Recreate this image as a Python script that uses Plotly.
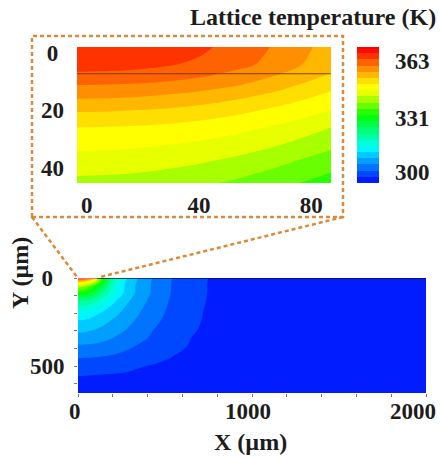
import plotly.graph_objects as go

W, H = 440, 458

# Inset: lattice temperature (K), estimated from the band edges in the picture
inset_x = [-3.5, 10, 25, 40, 55, 70, 87]
inset_y = [-2, 4, 8, 12, 16, 20, 26, 32, 38, 45.3]
inset_t = [
    [367.0, 367.0, 366.0, 364.8, 362.4, 359.6, 355.4],
    [365.3, 365.2, 364.6, 363.4, 361.5, 358.6, 354.6],
    [363.3, 363.1, 362.4, 361.0, 359.0, 356.5, 353.0],
    [359.8, 359.6, 359.0, 358.0, 356.5, 354.0, 350.6],
    [357.0, 356.8, 356.2, 355.2, 353.5, 351.3, 348.7],
    [353.9, 353.7, 353.2, 352.2, 350.8, 349.0, 346.5],
    [350.0, 349.8, 349.4, 348.6, 347.4, 345.7, 343.0],
    [347.4, 347.2, 346.7, 345.9, 344.6, 342.9, 340.4],
    [345.0, 344.8, 344.2, 343.3, 341.9, 340.0, 337.5],
    [342.0, 341.8, 341.2, 340.2, 338.7, 336.8, 334.5],
]

# Main plot: lattice temperature (K), estimated from the band edges in the picture
main_x = [0, 40, 87, 140, 200, 280, 350, 430, 550, 650, 750, 1000, 2000]
main_y = [0, 25, 47, 85, 130, 200, 250, 300, 340, 380, 420, 455, 500, 540, 653]
main_t = [
    [367.0, 365.0, 356.0, 335.0, 322.0, 312.0, 307.6, 304.3, 300.8, 299.1, 297.5, 295.5, 294.5],
    [351.0, 349.0, 343.5, 331.0, 318.8, 310.8, 307.2, 304.1, 300.6, 299.0, 297.4, 295.5, 294.5],
    [341.5, 340.0, 334.0, 327.0, 317.5, 310.3, 307.0, 304.0, 300.6, 298.9, 297.4, 295.5, 294.5],
    [332.0, 331.0, 328.0, 321.9, 316.1, 310.2, 306.9, 304.0, 300.5, 298.9, 297.4, 295.4, 294.5],
    [322.0, 321.5, 320.0, 316.5, 312.4, 308.6, 305.9, 303.4, 300.2, 298.7, 297.3, 295.4, 294.5],
    [314.0, 313.8, 312.5, 311.0, 309.2, 306.7, 304.6, 302.4, 299.9, 298.3, 297.1, 295.3, 294.5],
    [310.9, 310.7, 310.1, 308.9, 307.4, 305.5, 303.6, 301.7, 299.6, 298.1, 297.05, 295.4, 294.5],
    [308.5, 308.4, 307.8, 307.0, 306.0, 304.2, 302.8, 301.0, 299.3, 297.8, 296.9, 295.2, 294.5],
    [306.6, 306.5, 306.2, 305.5, 304.5, 303.2, 301.9, 300.5, 299.0, 297.5, 296.8, 295.3, 294.5],
    [304.5, 304.4, 304.2, 303.8, 303.1, 302.0, 300.8, 299.9, 298.4, 297.3, 296.6, 295.1, 294.5],
    [302.8, 302.8, 302.6, 302.2, 301.6, 300.7, 300.1, 299.3, 297.8, 297.0, 296.4, 295.2, 294.5],
    [301.0, 300.9, 300.8, 300.6, 300.3, 299.8, 299.2, 298.4, 297.3, 296.7, 296.0, 295.0, 294.5],
    [299.3, 299.3, 299.2, 299.1, 298.8, 298.3, 297.8, 297.3, 296.8, 296.2, 295.6, 295.0, 294.5],
    [297.9, 297.9, 297.8, 297.7, 297.6, 297.4, 296.8, 296.5, 296.0, 295.6, 295.3, 295.0, 294.5],
    [295.0, 295.0, 295.0, 295.0, 295.0, 295.0, 295.0, 294.9, 294.8, 294.7, 294.7, 294.6, 294.5],
]

T_MIN, T_MAX, T_STEP = 294, 371, 3.5
scale_t = [294, 296, 314, 332, 346, 349, 360, 368, 371]
scale_c = ["#0000ff", "#0020ff", "#00ffff", "#00ff00", "#ffff00", "#ffff00", "#ff8000", "#ff1500", "#ff0000"]
colorbar_ticks = [300, 331, 363]

inset_xticks = [0, 40, 80]
inset_yticks = [0, 20, 40]
inset_ylabels = ["0\u2005", "20", "40"]
main_xticks = [0, 200, 400, 600, 800, 1000, 1200, 1400, 1600, 1800, 2000]
main_xlabels = [0, 1000, 2000]
main_xlabel_shift = [-3, -4, -13]
main_yticks = [0, 100, 200, 300, 400, 500, 600]
main_ylabels = ["0\u2002", "", "", "", "", "500", ""]
lattice_line_y = 7.3

SERIF = "Liberation Serif"
INK = "#1c1c1c"
ORANGE = "#d98a3c"
tick_font = dict(family=SERIF, size=23, color=INK, weight=700)
title_font = dict(family=SERIF, size=24, color=INK)
colorscale = [[(t - T_MIN) / (T_MAX - T_MIN), c] for t, c in zip(scale_t, scale_c)]
contours = dict(coloring="fill", start=T_MIN, end=T_MAX, size=T_STEP, showlines=False)


def px_x(p):
    return p / W


def px_y(p):
    return 1 - p / H


fig = go.Figure()
fig.add_trace(go.Contour(
    x=main_x, y=main_y, z=main_t, xaxis="x", yaxis="y",
    zmin=T_MIN, zmax=T_MAX, autocontour=False, contours=contours,
    colorscale=colorscale, line=dict(width=0, smoothing=1), hoverinfo="skip",
    colorbar=dict(
        x=px_x(357), xanchor="left", y=px_y(47), yanchor="top",
        len=136, lenmode="pixels", thickness=22, thicknessmode="pixels",
        outlinewidth=0, tickvals=colorbar_ticks, tickfont=tick_font,
        ticks="outside", ticklen=12, tickcolor="rgba(0,0,0,0)", xpad=0, ypad=0,
    ),
))
fig.add_trace(go.Contour(
    x=inset_x, y=inset_y, z=inset_t, xaxis="x2", yaxis="y2",
    zmin=T_MIN, zmax=T_MAX, autocontour=False, contours=contours,
    colorscale=colorscale, line=dict(width=0, smoothing=1), hoverinfo="skip",
    showscale=False,
))
fig.add_trace(go.Scatter(
    x=[inset_x[0], inset_x[-1]], y=[lattice_line_y, lattice_line_y], xaxis="x2", yaxis="y2",
    mode="lines", line=dict(color="rgba(95,45,0,0.8)", width=1), hoverinfo="skip", showlegend=False,
))
fig.add_trace(go.Scatter(
    x=[0, 2000], y=[0, 0], xaxis="x", yaxis="y", mode="lines", cliponaxis=False,
    line=dict(color="#10104a", width=1.5), hoverinfo="skip", showlegend=False,
))
fig.add_trace(go.Scatter(
    x=[0, 110], y=[0, 0], xaxis="x", yaxis="y", mode="lines", cliponaxis=False,
    line=dict(color="#f0709a", width=2), hoverinfo="skip", showlegend=False,
))

dash = dict(color=ORANGE, width=2.5, dash="4px,3px")
shapes = [
    dict(type="rect", xref="paper", yref="paper", x0=px_x(32), x1=px_x(343),
         y0=px_y(217), y1=px_y(36), line=dash),
    dict(type="line", xref="paper", yref="paper", x0=px_x(32), x1=px_x(77),
         y0=px_y(217), y1=px_y(277), line=dash),
    dict(type="line", xref="paper", yref="paper", x0=px_x(343), x1=px_x(100),
         y0=px_y(217), y1=px_y(277), line=dash),
]

centered = dict(xanchor="center", yanchor="middle", showarrow=False)
annotations = [
    dict(text="<b>Lattice temperature (K)</b>", xref="paper", yref="paper", x=px_x(313), y=px_y(17),
         font=title_font, **centered),
    dict(text="<b>X (µm)</b>", xref="paper", yref="paper", x=px_x(250), y=px_y(442),
         font=title_font, **centered),
    dict(text="<b>Y (µm)</b>", xref="paper", yref="paper", x=px_x(20), y=px_y(273),
         textangle=-90, font=title_font, **centered),
]
for v, s in zip(main_xlabels, main_xlabel_shift):
    annotations.append(dict(
        text=str(v), xref="x", yref="paper", x=v, y=px_y(411), xshift=s,
        font=tick_font, **centered,
    ))

fig.update_layout(
    width=W, height=H, margin=dict(l=0, r=0, t=0, b=0, autoexpand=False), autosize=False,
    paper_bgcolor="white", plot_bgcolor="white", showlegend=False,
    shapes=shapes, annotations=annotations,
    xaxis=dict(domain=[px_x(78), px_x(426)], range=[0, 2000], anchor="y",
               tickvals=main_xticks, ticktext=[""] * len(main_xticks),
               ticks="outside", ticklen=3, tickwidth=1, tickcolor="#777777",
               showgrid=False, zeroline=False, showline=False),
    yaxis=dict(domain=[px_y(393), px_y(278)], range=[653, 0], anchor="x",
               tickvals=main_yticks, ticktext=main_ylabels, tickfont=tick_font,
               ticks="outside", ticklen=3, tickwidth=1, tickcolor="#777777",
               ticklabelstandoff=5,
               showgrid=False, zeroline=False, showline=False),
    xaxis2=dict(domain=[px_x(77), px_x(331)], range=[-3.5, 87], anchor="y2",
                tickvals=inset_xticks, tickfont=tick_font, ticks="", ticklabelstandoff=6,
                showgrid=False, zeroline=False, showline=False),
    yaxis2=dict(domain=[px_y(183), px_y(47)], range=[45.3, -2], anchor="x2",
                tickvals=inset_yticks, ticktext=inset_ylabels, tickfont=tick_font, ticks="",
                ticklabelstandoff=12,
                showgrid=False, zeroline=False, showline=False),
)

fig.write_html("out.html", config={"displayModeBar": False},
               post_script="document.body.style.margin='0';document.body.style.overflow='hidden';")
